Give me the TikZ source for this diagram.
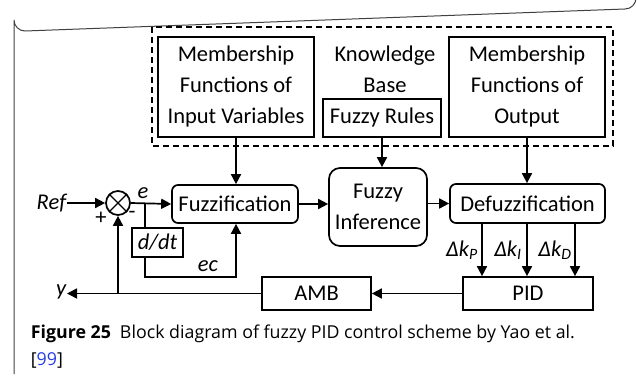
\documentclass[tikz,border=0pt]{standalone}
\usepackage{fontspec}
\setmainfont{Carlito}
\newfontfamily\capfont{Open Sans}
\usetikzlibrary{arrows.meta}
\definecolor{refblue}{RGB}{40,60,230}
\begin{document}
\begin{tikzpicture}[x=1pt,y=-1pt,
  line width=1.7pt,
  font=\fontsize{22.5}{31}\selectfont,
  blk/.style={draw, line width=1.7pt, inner sep=0pt, align=center},
  rblk/.style={blk, rounded corners=6pt},
  lbl/.style={inner sep=0pt},
  itl/.style={lbl, font=\fontsize{22.5}{31}\selectfont\itshape},
  arr/.style={-{Triangle[length=10pt,width=10pt]}, line width=1.7pt}]
\useasboundingbox (0,0) rectangle (637,377);
% frame round the figure
\draw[line width=1pt, black!75] (14,374) -- (14,20) arc[start angle=180,end angle=90,radius=11] -- (625,9) arc[start angle=90,end angle=0,radius=11];
% knowledge base area
\draw[line width=1.7pt, dash pattern=on 6pt off 4pt] (152,27) rectangle (613,146);
\node[blk, minimum width=156pt, minimum height=100pt] (mfin) at (236,87) {Membership\\Functions of\\Input Variables};
\node[lbl, align=center] (kb) at (385,69) {Knowledge\\Base};
\node[blk, minimum width=118pt, minimum height=38pt] (rules) at (382,118) {Fuzzy Rules};
\node[blk, minimum width=156pt, minimum height=100pt] (mfout) at (527,87) {Membership\\Functions of\\Output};
% fuzzy controller chain
\node[rblk, minimum width=126pt, minimum height=38pt] (fuzz) at (235,204) {Fuzzification};
\node[blk, rounded corners=11pt, minimum width=98pt, minimum height=78pt] (inf) at (378,207) {Fuzzy\\Inference};
\node[rblk, minimum width=155pt, minimum height=39pt] (defuzz) at (527.5,203.5) {Defuzzification};
\node[blk, minimum width=130pt, minimum height=33pt] (pid) at (528,293.5) {PID};
\node[blk, minimum width=109pt, minimum height=33pt] (amb) at (316.5,293.5) {AMB};
\node[blk, minimum width=51pt, minimum height=29pt, font=\fontsize{22.5}{31}\selectfont\itshape] (ddt) at (157.5,242.5) {d/dt};
% summing junction
\node[draw, circle, minimum size=24pt, inner sep=0pt, line width=1.7pt] (sum) at (118,203) {};
\draw[line width=1.4pt] (sum.north west) -- (sum.south east) (sum.north east) -- (sum.south west);
% labels
\node[itl, anchor=east] (ref) at (67,203) {Ref};
\node[itl] (el) at (143,193) {e};
\node[itl] (ecl) at (208,266) {ec};
\node[itl, anchor=east] (yl) at (67,292) {y};
\node[lbl] (plus) at (101,218) {+};
\node[lbl] (minus) at (132,215) {-};
\node[itl] (kp) at (462,250) {Δk\textsubscript{P}};
\node[itl] (ki) at (508,250) {Δk\textsubscript{I}};
\node[itl] (kd) at (555,250) {Δk\textsubscript{D}};
% connection points
\coordinate (br) at (145,203);
\coordinate (c1) at (145,277);
\coordinate (c2) at (236,277);
\coordinate (fb) at (118,294);
% signal flow
\draw[arr] (ref.east) -- (sum.west);
\draw[arr] (sum.east) -- (fuzz.west);
\draw (br) -- (ddt.north -| br);
\draw[arr] (ddt.south -| br) -- (c1) -- (c2) -- (fuzz.south -| c2);
\draw[arr] (fuzz.east) -- (inf.west |- fuzz.east);
\draw[arr] (inf.east |- defuzz.west) -- (defuzz.west);
\draw[arr] (mfin.south) -- (fuzz.north -| mfin.south);
\draw[arr] (rules.south) -- (inf.north -| rules.south);
\draw[arr] (mfout.south) -- (defuzz.north -| mfout.south);
\draw[arr] (defuzz.south -| 482,0) -- (pid.north -| 482,0);
\draw[arr] (defuzz.south -| 527,0) -- (pid.north -| 527,0);
\draw[arr] (defuzz.south -| 575,0) -- (pid.north -| 575,0);
\draw[arr] (pid.west) -- (amb.east);
\draw[arr] (amb.west) -- (yl.east |- amb.west);
\draw[arr] (fb) -- (sum.south);
% caption
\node[lbl, anchor=base west, font=\fontsize{17.8}{22}\capfont] (cap) at (30,338) {\textbf{Figure 25}\hspace{9pt}Block diagram of fuzzy PID control scheme by Yao et al.};
\node[lbl, anchor=base west, font=\fontsize{17.8}{22}\capfont] (cite) at (30,365) {[\textcolor{refblue}{99}]};
\end{tikzpicture}
\end{document}
